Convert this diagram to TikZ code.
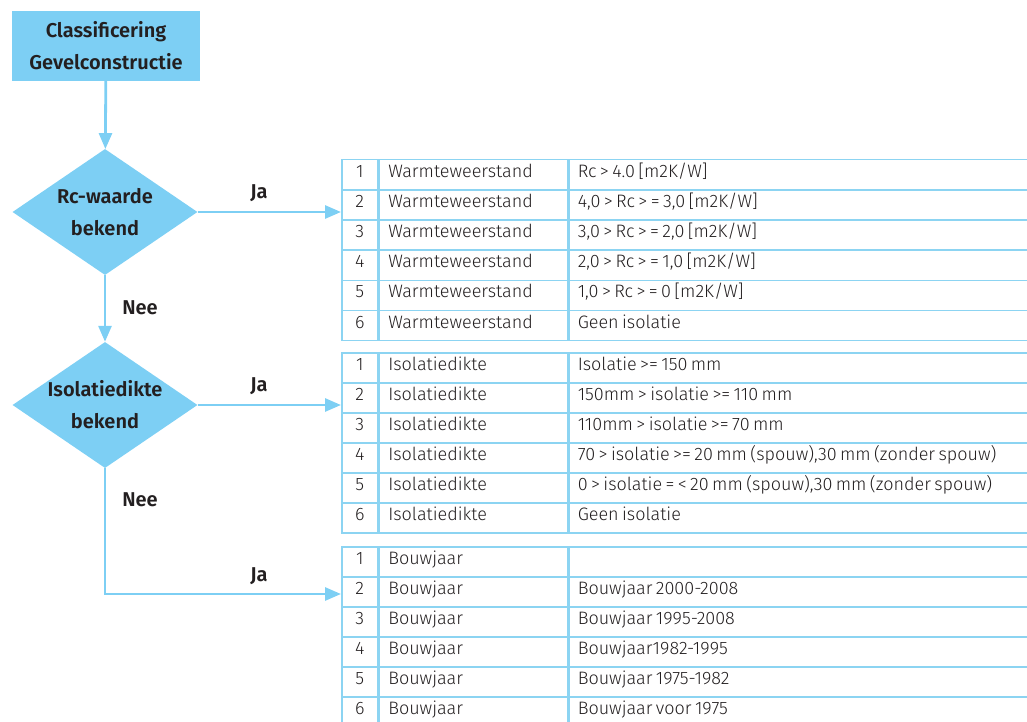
\documentclass[tikz,border=0pt]{standalone}
\usepackage{fontspec}
\setmainfont{Fira Sans}[UprightFont=* Light,BoldFont=* SemiBold]
\usepackage{tikz}
\usetikzlibrary{positioning,arrows.meta,shapes.geometric}
\definecolor{flowblue}{RGB}{125,207,244}
\definecolor{gridblue}{RGB}{140,212,242}
\definecolor{inkgrey}{RGB}{35,31,32}
\newcommand\tightspace{\spaceskip=3.4pt plus 1pt minus 1pt\relax}

\begin{document}
\begin{tikzpicture}[
    x=1pt, y=-1pt,
    font=\fontsize{18}{21}\selectfont,
    text=inkgrey,
    startbox/.style={
        fill=flowblue,
        minimum width=188pt,
        minimum height=70pt,
        align=center,
        font=\fontsize{20}{32}\selectfont\bfseries
    },
    decision/.style={
        diamond,
        fill=flowblue,
        minimum width=185pt,
        minimum height=126pt,
        inner sep=0pt
    },
    dlabel/.style={align=center, font=\fontsize{20}{32}\selectfont\bfseries},
    answer/.style={font=\fontsize{20}{22}\selectfont\bfseries},
    flow/.style={draw=flowblue, line width=2.8pt, -{Triangle[length=16pt,width=13pt]}},
    nrcell/.style={
        draw=gridblue,
        line width=1.5pt,
        anchor=north west,
        minimum width=36pt,
        minimum height=30.1pt,
        text height=12pt,
        text depth=7pt,
        inner sep=0pt
    },
    kindcell/.style={nrcell, text width=170pt, inner xsep=9pt, align=left},
    valcell/.style={nrcell, text width=443pt, inner xsep=9pt, align=left,
        execute at begin node=\tightspace}
]
\useasboundingbox (0,0) rectangle (1027,722);

\node[startbox] (start) at (106,46) {Classificering\\Gevelconstructie};

\node[decision] (rc) at (105,212) {};
\node[dlabel] (rctext) at (rc) {Rc-waarde\\bekend};

\node[decision] (iso) at (105,405) {};
\node[dlabel] (isotext) at (iso) {Isolatiedikte\\bekend};

% tabel Rc-waarde
\foreach \val [count=\nr] in {{Rc > 4.0 [m2K/W]}, {4,0 > Rc > = 3,0 [m2K/W]},
    {3,0 > Rc > = 2,0 [m2K/W]}, {2,0 > Rc > = 1,0 [m2K/W]},
    {1,0 > Rc > = 0 [m2K/W]}, {Geen isolatie}} {
    \node[nrcell] (warm-\nr) at (341,{159+(\nr-1)*30.17}) {\nr};
    \node[kindcell] (warm-\nr-kind) at (warm-\nr.north east) {Warmteweerstand};
    \node[valcell] (warm-\nr-val) at (warm-\nr-kind.north east) {\val};
}

% tabel isolatiedikte
\foreach \val [count=\nr] in {{Isolatie >= 150 mm}, {150mm > isolatie >= 110 mm},
    {110mm > isolatie >= 70 mm}, {70 > isolatie >= 20 mm (spouw),30 mm (zonder spouw)},
    {0 > isolatie = < 20 mm (spouw),30 mm (zonder spouw)}, {Geen isolatie}} {
    \node[nrcell] (dikte-\nr) at (341,{352+(\nr-1)*30}) {\nr};
    \node[kindcell] (dikte-\nr-kind) at (dikte-\nr.north east) {Isolatiedikte};
    \node[valcell] (dikte-\nr-val) at (dikte-\nr-kind.north east) {\val};
}

% tabel bouwjaar
\foreach \val [count=\nr] in {{\mbox{}}, {Bouwjaar 2000-2008}, {Bouwjaar 1995-2008},
    {Bouwjaar1982-1995}, {Bouwjaar 1975-1982}, {Bouwjaar voor 1975}} {
    \node[nrcell] (bouw-\nr) at (341,{546+(\nr-1)*30}) {\nr};
    \node[kindcell] (bouw-\nr-kind) at (bouw-\nr.north east) {Bouwjaar};
    \node[valcell] (bouw-\nr-val) at (bouw-\nr-kind.north east) {\val};
}

\node[answer] (ja1) at (259,193) {Ja};
\node[answer] (nee1) at (140,308) {Nee};
\node[answer] (ja2) at (259,386) {Ja};
\node[answer] (nee2) at (140,500) {Nee};
\node[answer] (ja3) at (259,576) {Ja};

\coordinate (low) at (105,594);

\draw[flow] (start) -- (rc);
\draw[flow] (rc.east) -- (rc.east -| warm-1.west);
\draw[flow] (rc) -- (iso);
\draw[flow] (iso.east) -- (iso.east -| dikte-1.west);
\draw[flow] (iso.south) -- (low) -- (low -| bouw-1.west);

\end{tikzpicture}
\end{document}
